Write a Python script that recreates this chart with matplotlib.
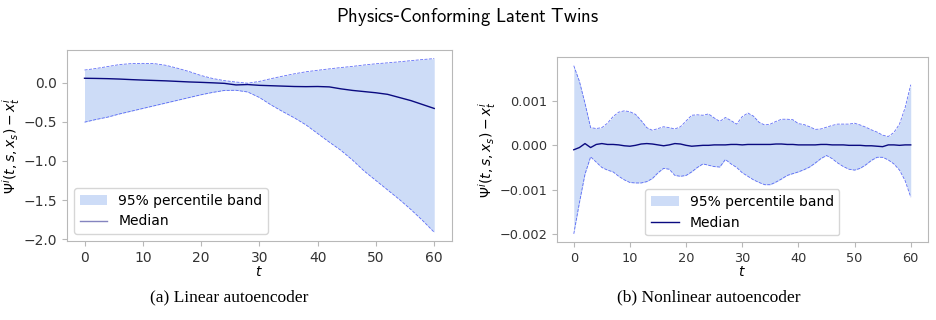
import numpy as np
import matplotlib
matplotlib.use("Agg")
import matplotlib.pyplot as plt

# ---- (a) linear autoencoder: values read every 2 steps of t ----
t_lin = list(range(0, 61, 2))
lin_upper = [0.160, 0.180, 0.205, 0.230, 0.242, 0.245, 0.242, 0.220, 0.182, 0.140,
             0.090, 0.052, 0.025, 0.007, -0.008, 0.015, 0.050, 0.082, 0.112, 0.138,
             0.157, 0.175, 0.192, 0.207, 0.225, 0.240, 0.252, 0.265, 0.280, 0.294, 0.306]
lin_lower = [-0.505, -0.470, -0.440, -0.400, -0.365, -0.330, -0.295, -0.260, -0.225, -0.190,
             -0.155, -0.125, -0.100, -0.098, -0.120, -0.190, -0.285, -0.370, -0.450, -0.540,
             -0.650, -0.760, -0.865, -0.990, -1.130, -1.250, -1.370, -1.490, -1.620, -1.760, -1.910]
lin_median = [0.055, 0.053, 0.050, 0.045, 0.038, 0.032, 0.027, 0.022, 0.015, 0.008,
              0.003, -0.003, -0.010, -0.030, -0.025, -0.035, -0.040, -0.045, -0.050, -0.052,
              -0.050, -0.055, -0.080, -0.100, -0.115, -0.130, -0.150, -0.190, -0.230, -0.280, -0.330]

# ---- (b) nonlinear autoencoder: values in units of 1e-4, t = 0..60 ----
t_nl = list(range(61))
nl_upper = [18, 14.5, 9.5, 4.0, 3.8, 4.0, 5.0, 6.5, 7.5, 7.8,
            7.6, 7.0, 5.6, 4.0, 3.4, 3.8, 4.2, 4.0, 3.7, 4.2,
            5.5, 6.8, 6.9, 6.8, 7.1, 6.2, 5.4, 6.3, 5.6, 4.8,
            6.5, 7.3, 6.6, 5.2, 4.6, 4.8, 5.4, 5.9, 5.9, 5.8,
            4.9, 4.7, 4.2, 3.6, 3.7, 4.1, 4.5, 4.8, 4.8, 4.8,
            5.0, 4.6, 4.1, 3.5, 3.0, 2.3, 2.0, 2.9, 4.8, 8.5, 13.7]
nl_lower = [-20, -13, -6.5, -2.6, -3.8, -5.0, -5.6, -6.0, -7.0, -7.8,
            -8.4, -8.5, -8.5, -8.2, -7.5, -6.2, -5.2, -5.4, -6.8, -7.0,
            -6.8, -6.0, -5.0, -4.2, -4.5, -4.8, -4.9, -3.2, -4.2, -5.0,
            -6.2, -7.0, -7.8, -8.4, -8.9, -8.9, -8.3, -7.6, -6.8, -6.4,
            -6.0, -5.5, -4.9, -4.0, -3.0, -2.3, -3.0, -4.0, -4.8, -5.4,
            -5.6, -5.2, -4.4, -3.4, -2.7, -2.7, -3.3, -4.2, -5.6, -8.0, -11.7]
nl_median = [-1.0, -0.5, 0.4, -0.5, 0.2, 0.4, 0.2, 0.2, 0.1, -0.1,
             -0.2, 0.0, 0.3, 0.4, 0.3, 0.1, -0.1, 0.1, 0.4, 0.3,
             0.0, -0.2, -0.1, 0.0, 0.0, 0.1, 0.1, 0.1, 0.2, 0.2,
             0.1, 0.2, 0.2, 0.2, 0.2, 0.2, 0.3, 0.3, 0.2, 0.2,
             0.1, 0.1, 0.1, 0.1, 0.2, 0.2, 0.1, 0.1, 0.1, 0.0,
             0.0, 0.0, -0.1, -0.1, -0.2, -0.3, 0.1, 0.1, 0.0, 0.1, 0.1]

BAND = "#cddcf7"
EDGE = "#3b4cf5"
MED = "#0a0a80"
SPINE = "#b8b8b8"
YLABEL = r"$\Psi^i(t,s,x_s) - x_t^i$"


def panel(ax, t, lo, hi, med, legend_loc, ylabel_x, tick_size, med_legend_alpha=1.0):
    ax.fill_between(t, lo, hi, color=BAND, lw=0, label="95% percentile band")
    ax.plot(t, hi, ls="--", lw=0.6, color=EDGE, alpha=0.8)
    ax.plot(t, lo, ls="--", lw=0.6, color=EDGE, alpha=0.8)
    ax.plot(t, med, lw=1.0, color=MED, label="Median")
    ax.set_xlabel("$t$", fontsize=10, labelpad=0)
    ax.set_ylabel(YLABEL, fontsize=10)
    ax.yaxis.set_label_coords(ylabel_x, 0.5)
    ax.set_xticks(range(0, 61, 10))
    for s in ax.spines.values():
        s.set_color(SPINE)
    ax.tick_params(colors="#333333", labelsize=tick_size, color=SPINE)
    leg = ax.legend(loc=legend_loc, fontsize=10, frameon=True)
    leg.get_lines()[0].set_alpha(med_legend_alpha)
    return ax


fig = plt.figure(figsize=(9.36, 3.2), dpi=100)
ax1 = fig.add_axes([0.0716, 0.247, 0.411, 0.597])
ax2 = fig.add_axes([0.595, 0.243, 0.396, 0.578])

panel(ax1, t_lin, lin_lower, lin_upper, lin_median, "lower left", -0.118, 10,
      med_legend_alpha=0.5)
ax1.set_yticks([0.0, -0.5, -1.0, -1.5, -2.0])

panel(ax2, t_nl, np.array(nl_lower) * 1e-4, np.array(nl_upper) * 1e-4,
      np.array(nl_median) * 1e-4, "lower center", -0.158, 9.3)
ax2.set_yticks([0.001, 0.0, -0.001, -0.002])
ax2.set_yticklabels(["0.001", "0.000", "\u22120.001", "\u22120.002"])

fig.text(0.5, 0.947, r"$\mathsf{Physics}$-$\mathsf{Conforming\ Latent\ Twins}$",
         ha="center", va="center", fontsize=13.4, math_fontfamily="cm")
fig.text(0.245, 0.07, "(a) Linear autoencoder", ha="center", va="center",
         fontsize=12.5, family="Liberation Serif")
fig.text(0.757, 0.07, "(b) Nonlinear autoencoder", ha="center", va="center",
         fontsize=12.5, family="Liberation Serif")

fig.savefig("out.png", dpi=100)
